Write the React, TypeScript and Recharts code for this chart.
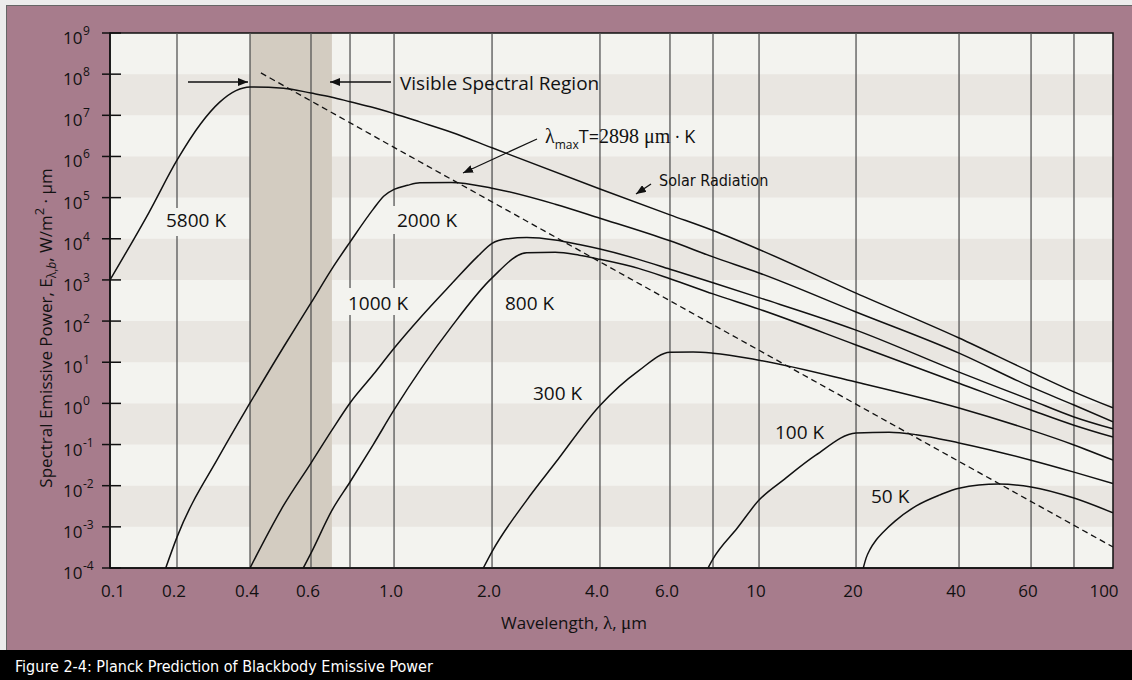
import React from 'react';
import { LineChart, Line, XAxis, YAxis, ReferenceArea, ReferenceLine } from 'recharts';

// The printed wavelength axis is not a true log axis: every labelled wavelength
// sits at its own fraction of the plot width. [wavelength µm, fraction of width]
const X_SCALE_STOPS: [number, number][] = [
  [0.1, 0], [0.2, 0.0668], [0.4, 0.1396], [0.6, 0.2004], [0.8, 0.2393], [1, 0.2832],
  [2, 0.3809], [4, 0.4885], [6, 0.5583], [8, 0.6012], [10, 0.6471], [20, 0.7438],
  [40, 0.8465], [60, 0.9183], [80, 0.9611], [100, 1],
];

const TICK_LAMBDAS = [0.1, 0.2, 0.4, 0.6, 1, 2, 4, 6, 10, 20, 40, 60, 100];
const TICK_LABELS = ['0.1', '0.2', '0.4', '0.6', '1.0', '2.0', '4.0', '6.0', '10', '20', '40', '60', '100'];
const GRID_LAMBDAS = [0.2, 0.4, 0.6, 0.8, 1, 2, 4, 6, 8, 10, 20, 40, 60, 80];
const Y_EXPONENTS = [-4, -3, -2, -1, 0, 1, 2, 3, 4, 5, 6, 7, 8, 9];
const SHADED_DECADES = [7, 5, 3, 1, -1, -3];
const VISIBLE_RANGE = [0.4, 0.7];

// curves: wavelength (µm) and log10 of E (W/m²·µm)
const T5800_LAMBDA = [0.1, 0.15, 0.2, 0.25, 0.3, 0.35, 0.4, 0.5, 0.6, 0.7, 0.8, 0.9, 1, 1.2, 1.5, 2, 4, 6, 8, 10, 20, 40, 60, 80, 100];
const T5800_LOG = [3.0, 4.65, 5.91, 6.79, 7.32, 7.6, 7.69, 7.66, 7.54, 7.44, 7.33, 7.19, 7.04, 6.84, 6.59, 6.21, 5.21, 4.58, 4.2, 3.74, 2.68, 1.59, 0.76, 0.28, -0.11];

const T2000_LAMBDA = [0.178, 0.2, 0.3, 0.4, 0.5, 0.6, 0.7, 0.8, 0.9, 0.95, 1, 1.1, 1.2, 1.5, 2, 3, 4, 6, 8, 10, 20, 40, 60, 80, 100];
const T2000_LOG = [-4.0, -3.25, -1.26, 0.01, 1.37, 2.44, 3.27, 3.92, 4.72, 5.04, 5.2, 5.3, 5.36, 5.37, 5.23, 4.84, 4.5, 3.95, 3.56, 3.17, 2.22, 1.22, 0.4, -0.04, -0.45];

const T1000_LAMBDA = [0.4, 0.5, 0.6, 0.7, 0.8, 0.9, 1, 1.2, 1.5, 1.8, 2, 2.2, 2.5, 3, 3.5, 4, 5, 6, 8, 10, 20, 40, 60, 80, 100];
const T1000_LOG = [-4.0, -2.48, -1.45, -0.65, 0.01, 0.7, 1.34, 2.07, 2.9, 3.56, 3.89, 4.0, 4.03, 3.97, 3.86, 3.75, 3.5, 3.26, 2.93, 2.57, 1.78, 0.76, 0.08, -0.33, -0.62];

const T800_LAMBDA = [0.57, 0.6, 0.7, 0.8, 0.9, 1, 1.5, 2, 2.5, 3, 3.5, 4, 5, 6, 8, 10, 20, 40, 60, 80, 100];
const T800_LOG = [-4.0, -3.64, -2.6, -1.91, -1.0, -0.16, 1.86, 3.05, 3.66, 3.67, 3.6, 3.5, 3.28, 3.03, 2.66, 2.29, 1.42, 0.49, -0.16, -0.53, -0.82];

const T300_LAMBDA = [1.88, 2, 2.5, 3, 4, 5, 6, 7, 8, 10, 20, 40, 60, 80, 100];
const T300_LOG = [-4.0, -3.6, -2.35, -1.45, -0.05, 0.79, 1.24, 1.25, 1.22, 1.05, 0.52, -0.11, -0.65, -1.01, -1.38];

const T100_LAMBDA = [7.74, 8, 9, 10, 12, 15, 20, 25, 30, 40, 60, 80, 100];
const T100_LOG = [-4.0, -3.78, -3.03, -2.35, -1.84, -1.26, -0.72, -0.7, -0.76, -0.96, -1.38, -1.67, -1.95];

const T50_LAMBDA = [21, 21.4, 22, 22.9, 24, 26, 30, 35, 40, 50, 60, 80, 100];
const T50_LOG = [-4.0, -3.76, -3.54, -3.32, -3.13, -2.86, -2.49, -2.23, -2.06, -1.96, -2.03, -2.3, -2.66];

// λmax·T = 2898 µm·K (dashed)
const WIEN_LAMBDA = [0.43, 1, 10, 100];
const WIEN_LOG = [8.03, 6.22, 1.29, -3.49];

const FONT = '"Open Sans", "DejaVu Sans", sans-serif';
const SERIF = '"Liberation Serif", "DejaVu Serif", serif';
const NARROW = '"Liberation Sans Narrow", "DejaVu Sans Condensed", sans-serif';
const INK = '#111';
const MAUVE = '#a77c8c';
const PLOT_BG = '#f3f3ef';
const BAND_BG = '#e9e6e1';
const VISIBLE_BG = '#d3ccc1';

function toAxis(lambda: number) {
  for (let i = 0; i < X_SCALE_STOPS.length - 1; i++) {
    const [l0, f0] = X_SCALE_STOPS[i];
    const [l1, f1] = X_SCALE_STOPS[i + 1];
    if (lambda <= l1 || i === X_SCALE_STOPS.length - 2) {
      const t = Math.log(lambda / l0) / Math.log(l1 / l0);
      return f0 + t * (f1 - f0);
    }
  }
  return 0;
}

const series = (lams: number[], logs: number[]) =>
  lams.map((l, i) => ({ u: toAxis(l), e: Math.pow(10, logs[i]) }));

const CURVES = [
  series(T5800_LAMBDA, T5800_LOG),
  series(T2000_LAMBDA, T2000_LOG),
  series(T1000_LAMBDA, T1000_LOG),
  series(T800_LAMBDA, T800_LOG),
  series(T300_LAMBDA, T300_LOG),
  series(T100_LAMBDA, T100_LOG),
  series(T50_LAMBDA, T50_LOG),
];
const WIEN = series(WIEN_LAMBDA, WIEN_LOG);

const TICK_U = TICK_LAMBDAS.map(toAxis);
const Y_TICKS = Y_EXPONENTS.map((k) => Math.pow(10, k));

const XTick = (props: any) => {
  const { x, y, payload } = props;
  const i = TICK_U.findIndex((u) => Math.abs(u - payload.value) < 1e-6);
  if (i < 0) return null;
  const dx = i === 0 ? 3 : i === TICK_U.length - 1 ? -9 : -3;
  return (
    <text x={x + dx} y={y + 29} textAnchor="middle" fontSize={17} fill={INK} fontFamily={FONT}>
      {TICK_LABELS[i]}
    </text>
  );
};

const YTick = (props: any) => {
  const { x, y, payload } = props;
  const k = Math.round(Math.log10(payload.value));
  return (
    <g>
      <line x1={x - 8} x2={x + 11} y1={y} y2={y} stroke={INK} strokeWidth={1.5} />
      <text x={x - 47} y={y + 11} fontSize={17} fill={INK} fontFamily={FONT}>10</text>
      <text x={x - 27} y={y + 2} fontSize={12} fill={INK} fontFamily={FONT}>{k}</text>
    </g>
  );
};

function Annotations() {
  const box = (x: number, y: number, w: number, h: number) => (
    <rect x={x} y={y} width={w} height={h} fill={PLOT_BG} />
  );
  const curveLabel = { fontSize: 19, fill: INK, fontFamily: FONT };
  return (
    <svg width={1132} height={680} style={{ position: 'absolute', left: 0, top: 0, pointerEvents: 'none' }}>
      <defs>
        <marker id="head" viewBox="0 0 10 8" refX="10" refY="4" markerWidth="10" markerHeight="8"
          markerUnits="userSpaceOnUse" orient="auto">
          <path d="M0,0 L10,4 L0,8 z" fill={INK} />
        </marker>
      </defs>
      <line x1={188} y1={82} x2={248} y2={82} stroke={INK} strokeWidth={1.4} markerEnd="url(#head)" />
      <line x1={391} y1={82} x2={330} y2={82} stroke={INK} strokeWidth={1.4} markerEnd="url(#head)" />
      <text x={400} y={90} fontSize={19} fill={INK} fontFamily={FONT}>Visible Spectral Region</text>

      <line x1={537} y1={139} x2={463} y2={173} stroke={INK} strokeWidth={1.3} markerEnd="url(#head)" />
      <text x={545} y={143} fill={INK}>
        <tspan fontFamily={SERIF} fontSize={20}>λ</tspan>
        <tspan fontFamily={FONT} fontSize={12} dy={6}>max</tspan>
        <tspan fontFamily={FONT} fontSize={18} dy={-6}>T=</tspan>
        <tspan fontFamily={SERIF} fontSize={20}>2898 μm</tspan>
        <tspan fontFamily={FONT} fontSize={18}> · K</tspan>
      </text>

      <line x1={651} y1={184} x2={636} y2={194} stroke={INK} strokeWidth={1.3} markerEnd="url(#head)" />
      <text x={659} y={186} fontSize={16} fill={INK} fontFamily={NARROW}>Solar Radiation</text>

      {box(162, 208, 68, 28)}
      <text x={166} y={227} {...curveLabel}>5800 K</text>
      {box(392, 206, 70, 28)}
      <text x={397} y={227} {...curveLabel}>2000 K</text>
      {box(344, 288, 68, 27)}
      <text x={348} y={310} {...curveLabel}>1000 K</text>
      <text x={505} y={310} {...curveLabel}>800 K</text>
      <text x={533} y={400} {...curveLabel}>300 K</text>
      <text x={775} y={439} {...curveLabel}>100 K</text>
      <text x={871} y={503} {...curveLabel}>50 K</text>

      <text x={574} y={629} textAnchor="middle" fontSize={17} fill={INK} fontFamily={FONT}>
        Wavelength, <tspan fontFamily={SERIF} fontSize={19}>λ</tspan>, <tspan fontFamily={SERIF} fontSize={19}>μ</tspan>m
      </text>
      <text x={52} y={328} transform="rotate(-90 52 328)" textAnchor="middle" fontSize={17} fill={INK} fontFamily={FONT}>
        Spectral Emissive Power, E
        <tspan fontSize={12} dy={4}>λ,</tspan>
        <tspan fontSize={12} fontStyle="italic">b</tspan>
        <tspan dy={-4}>, W/m</tspan>
        <tspan fontSize={13} dy={-8}>2</tspan>
        <tspan dy={8}> · μm</tspan>
      </text>

      <text x={15} y={672} fontSize={16} fill="#fff" fontFamily={NARROW}>
        Figure 2-4: Planck Prediction of Blackbody Emissive Power
      </text>
    </svg>
  );
}

export default function App() {
  return (
    <div style={{ position: 'absolute', left: 0, top: 0, width: 1132, height: 680, background: '#ececec', overflow: 'hidden' }}>
      <div style={{ position: 'absolute', left: 6, top: 5, right: 0, bottom: 30, background: MAUVE, borderTop: '1px solid #666', borderLeft: '1px solid #666' }} />
      <div style={{ position: 'absolute', left: 0, top: 650, width: 1132, height: 30, background: '#000' }} />
      <div style={{ position: 'absolute', left: 0, top: 0 }}>
        <LineChart width={1132} height={680} margin={{ top: 33, right: 19, bottom: 82, left: 50 }}>
          <XAxis type="number" dataKey="u" domain={[0, 1]} ticks={TICK_U} interval={0} allowDataOverflow
            height={30} tick={(p: any) => <XTick {...p} />} tickLine={false} tickSize={0} tickMargin={0}
            axisLine={{ stroke: INK, strokeWidth: 1.5 }} />
          <YAxis type="number" scale="log" domain={[1e-4, 1e9]} ticks={Y_TICKS} interval={0} allowDataOverflow
            width={60} tick={(p: any) => <YTick {...p} />} tickLine={false} tickSize={0} tickMargin={0}
            axisLine={{ stroke: INK, strokeWidth: 1.5 }} />

          <ReferenceArea x1={0} x2={1} y1={1e-4} y2={1e9} fill={PLOT_BG} fillOpacity={1} stroke="none" />
          {SHADED_DECADES.map((k) => (
            <ReferenceArea key={k} x1={0} x2={1} y1={Math.pow(10, k)} y2={Math.pow(10, k + 1)} fill={BAND_BG} fillOpacity={1} stroke="none" />
          ))}
          <ReferenceArea x1={toAxis(VISIBLE_RANGE[0])} x2={toAxis(VISIBLE_RANGE[1])} y1={1e-4} y2={1e9} fill={VISIBLE_BG} fillOpacity={1} stroke="none" />
          {GRID_LAMBDAS.map((l) => (
            <ReferenceLine key={l} x={toAxis(l)} stroke="#555" strokeWidth={1.3} />
          ))}
          <ReferenceArea x1={0} x2={1} y1={1e-4} y2={1e9} fill="none" stroke={INK} strokeWidth={1.5} />

          {CURVES.map((d, i) => (
            <Line key={i} data={d} dataKey="e" type="monotone" stroke={INK} strokeWidth={1.5} dot={false} isAnimationActive={false} />
          ))}
          <Line data={WIEN} dataKey="e" type="linear" stroke={INK} strokeWidth={1.3} strokeDasharray="6 4" dot={false} isAnimationActive={false} />
        </LineChart>
      </div>
      <Annotations />
    </div>
  );
}
